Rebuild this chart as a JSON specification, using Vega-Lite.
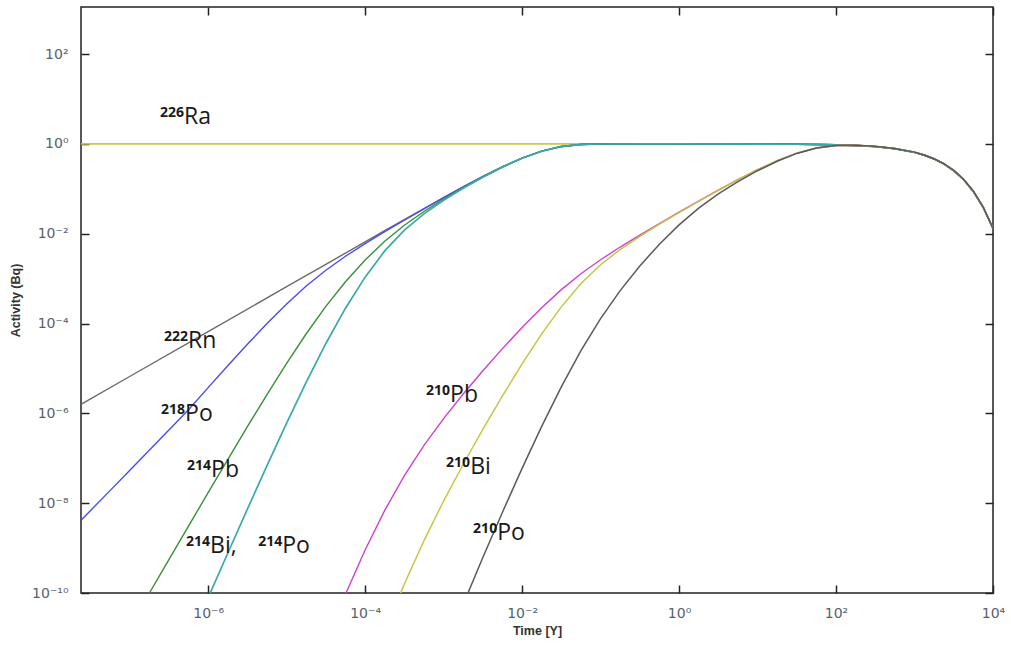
{
  "$schema": "https://vega.github.io/schema/vega-lite/v6.json",
  "width": 912,
  "height": 586,
  "autosize": {"type": "none"},
  "padding": {"left": 81, "top": 7, "right": 18, "bottom": 55},
  "background": "white",
  "config": {
    "view": {"stroke": "#222222", "strokeWidth": 1.5},
    "axis": {"grid": false}
  },
  "datasets": {
    "ra226": [
      {"t": 2.4e-8, "a": 1}, {"t": 1e-6, "a": 1}, {"t": 1e-4, "a": 1}, {"t": 0.01, "a": 1}, {"t": 1, "a": 1},
      {"t": 10, "a": 0.99568}, {"t": 31.62, "a": 0.9864}, {"t": 56.23, "a": 0.97593}, {"t": 100, "a": 0.9576},
      {"t": 177.8, "a": 0.92585}, {"t": 316.2, "a": 0.87197}, {"t": 562.3, "a": 0.78381}, {"t": 1000, "a": 0.64841},
      {"t": 1334, "a": 0.56118}, {"t": 1778, "a": 0.46285}, {"t": 2371, "a": 0.35795}, {"t": 3162, "a": 0.25413},
      {"t": 4217, "a": 0.16093}, {"t": 5623, "a": 0.087505}, {"t": 7499, "a": 0.038825}, {"t": 10000, "a": 0.013139}
    ],
    "rn222": [
      {"t": 2.4e-8, "a": 1.589e-6}, {"t": 1e-7, "a": 6.622e-6}, {"t": 1e-6, "a": 6.622e-5}, {"t": 1e-5, "a": 6.62e-4},
      {"t": 3.162e-5, "a": 2.092e-3}, {"t": 5.623e-5, "a": 3.717e-3}, {"t": 1e-4, "a": 6.6e-3}, {"t": 1.778e-4, "a": 0.011707},
      {"t": 3.162e-4, "a": 0.020723}, {"t": 5.623e-4, "a": 0.036553}, {"t": 1e-3, "a": 0.064075}, {"t": 1.778e-3, "a": 0.111087},
      {"t": 3.162e-3, "a": 0.188939}, {"t": 5.623e-3, "a": 0.310908}, {"t": 0.01, "a": 0.484275}, {"t": 0.01778, "a": 0.691977},
      {"t": 0.03162, "a": 0.876797}, {"t": 0.05623, "a": 0.975853}, {"t": 0.1, "a": 0.998669}, {"t": 0.3162, "a": 1}, {"t": 1, "a": 1},
      {"t": 10, "a": 0.99568}, {"t": 31.62, "a": 0.9864}, {"t": 56.23, "a": 0.97593}, {"t": 100, "a": 0.9576},
      {"t": 177.8, "a": 0.92585}, {"t": 316.2, "a": 0.87197}, {"t": 562.3, "a": 0.78381}, {"t": 1000, "a": 0.64841},
      {"t": 1334, "a": 0.56118}, {"t": 1778, "a": 0.46285}, {"t": 2371, "a": 0.35795}, {"t": 3162, "a": 0.25413},
      {"t": 4217, "a": 0.16093}, {"t": 5623, "a": 0.087505}, {"t": 7499, "a": 0.038825}, {"t": 10000, "a": 0.013139}
    ],
    "po218": [
      {"t": 2.4e-8, "a": 4.17e-9}, {"t": 5.623e-8, "a": 1.905e-8}, {"t": 1e-7, "a": 5.37e-8}, {"t": 1.778e-7, "a": 1.514e-7},
      {"t": 3.162e-7, "a": 4.266e-7}, {"t": 5.623e-7, "a": 1.2054e-6}, {"t": 1e-6, "a": 3.748e-6}, {"t": 1.778e-6, "a": 1.1505e-5},
      {"t": 3.162e-6, "a": 3.4549e-5}, {"t": 5.623e-6, "a": 9.9996e-5}, {"t": 1e-5, "a": 2.7295e-4}, {"t": 1.778e-5, "a": 6.8428e-4},
      {"t": 3.162e-5, "a": 1.5435e-3}, {"t": 5.623e-5, "a": 3.156e-3}, {"t": 1e-4, "a": 6.041e-3}, {"t": 1.778e-4, "a": 0.0111505},
      {"t": 3.162e-4, "a": 0.0201717}, {"t": 5.623e-4, "a": 0.036011}, {"t": 1e-3, "a": 0.063549}, {"t": 1.778e-3, "a": 0.110586},
      {"t": 3.162e-3, "a": 0.188482}, {"t": 5.623e-3, "a": 0.310521}, {"t": 0.01, "a": 0.484001}, {"t": 0.01778, "a": 0.691798},
      {"t": 0.03162, "a": 0.876753}, {"t": 0.05623, "a": 0.97585}, {"t": 0.1, "a": 0.99867}, {"t": 0.3162, "a": 1}, {"t": 1, "a": 1},
      {"t": 10, "a": 0.99568}, {"t": 31.62, "a": 0.9864}, {"t": 56.23, "a": 0.97593}, {"t": 100, "a": 0.9576},
      {"t": 177.8, "a": 0.92585}, {"t": 316.2, "a": 0.87197}, {"t": 562.3, "a": 0.78381}, {"t": 1000, "a": 0.64841},
      {"t": 1334, "a": 0.56118}, {"t": 1778, "a": 0.46285}, {"t": 2371, "a": 0.35795}, {"t": 3162, "a": 0.25413},
      {"t": 4217, "a": 0.16093}, {"t": 5623, "a": 0.087505}, {"t": 7499, "a": 0.038825}, {"t": 10000, "a": 0.013139}
    ],
    "pb214": [
      {"t": 1e-7, "a": 1.761e-11}, {"t": 1.778e-7, "a": 9.877e-11}, {"t": 3.162e-7, "a": 5.529e-10}, {"t": 5.623e-7, "a": 3.0845e-9},
      {"t": 1e-6, "a": 1.7101e-8}, {"t": 1.778e-6, "a": 9.379e-8}, {"t": 3.162e-6, "a": 5.0489e-7}, {"t": 5.623e-6, "a": 2.6317e-6},
      {"t": 1e-5, "a": 1.30186e-5}, {"t": 1.778e-5, "a": 5.937e-5}, {"t": 3.162e-5, "a": 2.4153e-4}, {"t": 5.623e-5, "a": 8.536e-4},
      {"t": 1e-4, "a": 2.596e-3}, {"t": 1.778e-4, "a": 6.8116e-3}, {"t": 3.162e-4, "a": 0.0154636}, {"t": 5.623e-4, "a": 0.0313095},
      {"t": 1e-3, "a": 0.058978}, {"t": 1.778e-3, "a": 0.106255}, {"t": 3.162e-3, "a": 0.184483}, {"t": 5.623e-3, "a": 0.30716},
      {"t": 0.01, "a": 0.481477}, {"t": 0.01778, "a": 0.690298}, {"t": 0.03162, "a": 0.87615}, {"t": 0.05623, "a": 0.975727},
      {"t": 0.1, "a": 0.99866}, {"t": 0.3162, "a": 1}, {"t": 1, "a": 1},
      {"t": 10, "a": 0.99568}, {"t": 31.62, "a": 0.9864}, {"t": 56.23, "a": 0.97593}, {"t": 100, "a": 0.9576},
      {"t": 177.8, "a": 0.92585}, {"t": 316.2, "a": 0.87197}, {"t": 562.3, "a": 0.78381}, {"t": 1000, "a": 0.64841},
      {"t": 1334, "a": 0.56118}, {"t": 1778, "a": 0.46285}, {"t": 2371, "a": 0.35795}, {"t": 3162, "a": 0.25413},
      {"t": 4217, "a": 0.16093}, {"t": 5623, "a": 0.087505}, {"t": 7499, "a": 0.038825}, {"t": 10000, "a": 0.013139}
    ],
    "bi214": [
      {"t": 7.943e-7, "a": 3.15e-11}, {"t": 1e-6, "a": 7.855e-11}, {"t": 1.778e-6, "a": 7.6765e-10}, {"t": 3.162e-6, "a": 7.3731e-9},
      {"t": 5.623e-6, "a": 6.8732e-8}, {"t": 1e-5, "a": 6.0929e-7}, {"t": 1.778e-5, "a": 4.9815e-6}, {"t": 3.162e-5, "a": 3.6024e-5},
      {"t": 5.623e-5, "a": 2.2004e-4}, {"t": 1e-4, "a": 1.0817e-3}, {"t": 1.778e-4, "a": 4.1497e-3}, {"t": 3.162e-4, "a": 0.012074},
      {"t": 5.623e-4, "a": 0.027809}, {"t": 1e-3, "a": 0.055571}, {"t": 1.778e-3, "a": 0.103016}, {"t": 3.162e-3, "a": 0.181565},
      {"t": 5.623e-3, "a": 0.304646}, {"t": 0.01, "a": 0.479611}, {"t": 0.01778, "a": 0.68918}, {"t": 0.03162, "a": 0.875695},
      {"t": 0.05623, "a": 0.975639}, {"t": 0.1, "a": 0.998657}, {"t": 0.3162, "a": 1}, {"t": 1, "a": 1},
      {"t": 10, "a": 0.99568}, {"t": 31.62, "a": 0.9864}, {"t": 56.23, "a": 0.97593}, {"t": 100, "a": 0.9576},
      {"t": 177.8, "a": 0.92585}, {"t": 316.2, "a": 0.87197}, {"t": 562.3, "a": 0.78381}, {"t": 1000, "a": 0.64841},
      {"t": 1334, "a": 0.56118}, {"t": 1778, "a": 0.46285}, {"t": 2371, "a": 0.35795}, {"t": 3162, "a": 0.25413},
      {"t": 4217, "a": 0.16093}, {"t": 5623, "a": 0.087505}, {"t": 7499, "a": 0.038825}, {"t": 10000, "a": 0.013139}
    ],
    "pb210": [
      {"t": 3.162e-5, "a": 8.075e-12}, {"t": 5.623e-5, "a": 9.401e-11}, {"t": 1e-4, "a": 9.046e-10}, {"t": 1.778e-4, "a": 6.914e-9},
      {"t": 3.162e-4, "a": 4.123e-8}, {"t": 5.623e-4, "a": 1.9438e-7}, {"t": 1e-3, "a": 7.649e-7}, {"t": 1.778e-3, "a": 2.6967e-6},
      {"t": 3.162e-3, "a": 8.871e-6}, {"t": 5.623e-3, "a": 2.7681e-5}, {"t": 0.01, "a": 8.184e-5}, {"t": 0.01778, "a": 2.2595e-4},
      {"t": 0.03162, "a": 5.699e-4}, {"t": 0.05623, "a": 1.2903e-3}, {"t": 0.1, "a": 2.6431e-3}, {"t": 0.1778, "a": 5.0636e-3},
      {"t": 0.3162, "a": 9.3538e-3}, {"t": 0.5623, "a": 0.0169371}, {"t": 1, "a": 0.0302793}, {"t": 1.778, "a": 0.0535596},
      {"t": 3.162, "a": 0.0935881}, {"t": 5.623, "a": 0.160633}, {"t": 10, "a": 0.267218}, {"t": 17.78, "a": 0.424008},
      {"t": 31.62, "a": 0.62231}, {"t": 56.23, "a": 0.814384}, {"t": 100, "a": 0.926393}, {"t": 177.8, "a": 0.934951},
      {"t": 316.2, "a": 0.88424}, {"t": 562.3, "a": 0.79484}, {"t": 1000, "a": 0.65753}, {"t": 1334, "a": 0.56908},
      {"t": 1778, "a": 0.46937}, {"t": 2371, "a": 0.36299}, {"t": 3162, "a": 0.25771}, {"t": 4217, "a": 0.1632},
      {"t": 5623, "a": 0.08874}, {"t": 7499, "a": 0.03937}, {"t": 10000, "a": 0.013324}
    ],
    "bi210": [
      {"t": 1.778e-4, "a": 1.3618e-11}, {"t": 3.162e-4, "a": 1.5861e-10}, {"t": 5.623e-4, "a": 1.4672e-9}, {"t": 1e-3, "a": 1.1158e-8},
      {"t": 1.778e-3, "a": 7.3575e-8}, {"t": 3.162e-3, "a": 4.4047e-7}, {"t": 5.623e-3, "a": 2.4503e-6}, {"t": 0.01, "a": 1.2633e-5},
      {"t": 0.01778, "a": 5.8724e-5}, {"t": 0.03162, "a": 2.3603e-4}, {"t": 0.05623, "a": 7.7745e-4}, {"t": 0.1, "a": 2.0399e-3},
      {"t": 0.1778, "a": 4.4485e-3}, {"t": 0.3162, "a": 8.7412e-3}, {"t": 0.5623, "a": 0.0163293}, {"t": 1, "a": 0.0296798},
      {"t": 1.778, "a": 0.0529743}, {"t": 3.162, "a": 0.0930275}, {"t": 5.623, "a": 0.160115}, {"t": 10, "a": 0.266768},
      {"t": 17.78, "a": 0.4237}, {"t": 31.62, "a": 0.6222}, {"t": 56.23, "a": 0.81434}, {"t": 100, "a": 0.92638},
      {"t": 177.8, "a": 0.934951}, {"t": 316.2, "a": 0.88424}, {"t": 562.3, "a": 0.79484}, {"t": 1000, "a": 0.65753},
      {"t": 1334, "a": 0.56908}, {"t": 1778, "a": 0.46937}, {"t": 2371, "a": 0.36299}, {"t": 3162, "a": 0.25771},
      {"t": 4217, "a": 0.1632}, {"t": 5623, "a": 0.08874}, {"t": 7499, "a": 0.03937}, {"t": 10000, "a": 0.013324}
    ],
    "po210": [
      {"t": 1e-3, "a": 4.488e-12}, {"t": 1.778e-3, "a": 5.571e-11}, {"t": 3.162e-3, "a": 6.17e-10}, {"t": 5.623e-3, "a": 6.298e-9},
      {"t": 0.01, "a": 5.958e-8}, {"t": 0.01778, "a": 5.139e-7}, {"t": 0.03162, "a": 3.904e-6}, {"t": 0.05623, "a": 2.4946e-5},
      {"t": 0.1, "a": 1.2901e-4}, {"t": 0.1778, "a": 5.41e-4}, {"t": 0.3162, "a": 1.921e-3}, {"t": 0.5623, "a": 5.8663e-3},
      {"t": 1, "a": 0.0158037}, {"t": 1.778, "a": 0.037248}, {"t": 3.162, "a": 0.077334}, {"t": 5.623, "a": 0.145531},
      {"t": 10, "a": 0.25362}, {"t": 17.78, "a": 0.413}, {"t": 31.62, "a": 0.615813}, {"t": 56.23, "a": 0.8115},
      {"t": 100, "a": 0.925832}, {"t": 177.8, "a": 0.9347}, {"t": 316.2, "a": 0.8842}, {"t": 562.3, "a": 0.79484},
      {"t": 1000, "a": 0.65753}, {"t": 1334, "a": 0.56908}, {"t": 1778, "a": 0.46937}, {"t": 2371, "a": 0.36299},
      {"t": 3162, "a": 0.25771}, {"t": 4217, "a": 0.1632}, {"t": 5623, "a": 0.08874}, {"t": 7499, "a": 0.03937},
      {"t": 10000, "a": 0.013324}
    ],
    "labels": [
      {"t": 4.94e-7, "a": 2.786, "sup": "226", "el": "Ra"},
      {"t": 5.56e-7, "a": 2.864e-5, "sup": "222", "el": "Rn"},
      {"t": 5.09e-7, "a": 6.78e-7, "sup": "218", "el": "Po"},
      {"t": 1.091e-6, "a": 3.84e-8, "sup": "214", "el": "Pb"},
      {"t": 1.059e-6, "a": 7.78e-10, "sup": "214", "el": "Bi,"},
      {"t": 8.77e-6, "a": 7.78e-10, "sup": "214", "el": "Po"},
      {"t": 1.211e-3, "a": 1.795e-6, "sup": "210", "el": "Pb"},
      {"t": 2.178e-3, "a": 4.47e-8, "sup": "210", "el": "Bi"},
      {"t": 4.81e-3, "a": 1.51e-9, "sup": "210", "el": "Po"}
    ]
  },
  "layer": [
    {
      "encoding": {
        "x": {
          "field": "t", "type": "quantitative",
          "scale": {"type": "log", "domain": [2.4e-8, 10000], "nice": false},
          "axis": {
            "orient": "bottom",
            "values": [1e-6, 1e-4, 0.01, 1, 100, 10000],
            "labelExpr": "'10' + (datum.value < 1 ? '⁻' : '') + (abs(round(log(datum.value)/LN10)) >= 10 ? '¹' : '') + ['⁰','¹','²','³','⁴','⁵','⁶','⁷','⁸','⁹'][abs(round(log(datum.value)/LN10)) % 10]",
            "domain": false, "grid": false,
            "tickSize": -8, "tickColor": "#222222", "tickWidth": 1.5,
            "labelFont": "DejaVu Sans", "labelFontSize": 14, "labelColor": "#56616e", "labelPadding": 21,
            "labelFlush": false, "labelOverlap": false,
            "title": "Time [Y]", "titleFont": "Liberation Sans", "titleFontSize": 12.5, "titleFontWeight": "bold",
            "titleColor": "#333333", "titlePadding": 4
          }
        },
        "y": {
          "field": "a", "type": "quantitative",
          "scale": {"type": "log", "domain": [1e-10, 1122], "nice": false},
          "axis": {
            "orient": "left",
            "values": [1e-10, 1e-8, 1e-6, 1e-4, 0.01, 1, 100],
            "labelExpr": "'10' + (datum.value < 1 ? '⁻' : '') + (abs(round(log(datum.value)/LN10)) >= 10 ? '¹' : '') + ['⁰','¹','²','³','⁴','⁵','⁶','⁷','⁸','⁹'][abs(round(log(datum.value)/LN10)) % 10]",
            "domain": false, "grid": false,
            "tickSize": -8, "tickColor": "#222222", "tickWidth": 1.5,
            "labelFont": "DejaVu Sans", "labelFontSize": 14, "labelColor": "#56616e", "labelPadding": 21,
            "labelFlush": false, "labelOverlap": false,
            "title": "Activity (Bq)", "titleFont": "Liberation Sans", "titleFontSize": 12.5, "titleFontWeight": "bold",
            "titleColor": "#333333", "titlePadding": 9
          }
        }
      },
      "layer": [
        {"data": {"name": "ra226"}, "mark": {"type": "line", "color": "#c9c93c", "strokeWidth": 1.7, "clip": true}},
        {"data": {"name": "rn222"}, "mark": {"type": "line", "color": "#6b6b6b", "strokeWidth": 1.4, "clip": true}},
        {"data": {"name": "po218"}, "mark": {"type": "line", "color": "#4b4bf5", "strokeWidth": 1.4, "clip": true}},
        {"data": {"name": "pb214"}, "mark": {"type": "line", "color": "#3a8f3a", "strokeWidth": 1.4, "clip": true}},
        {"data": {"name": "bi214"}, "mark": {"type": "line", "color": "#3aa9a9", "strokeWidth": 1.7, "clip": true}},
        {"data": {"name": "pb210"}, "mark": {"type": "line", "color": "#d040d0", "strokeWidth": 1.4, "clip": true}},
        {"data": {"name": "bi210"}, "mark": {"type": "line", "color": "#c4c43c", "strokeWidth": 1.4, "clip": true}},
        {"data": {"name": "po210"}, "mark": {"type": "line", "color": "#5a5a5a", "strokeWidth": 1.5, "clip": true}},
        {
          "data": {"name": "labels"},
          "mark": {"type": "text", "align": "right", "baseline": "alphabetic", "dy": -7, "font": "Open Sans", "fontSize": 14, "fontWeight": "bold", "color": "#1a1a1a"},
          "encoding": {"text": {"field": "sup"}}
        },
        {
          "data": {"name": "labels"},
          "mark": {"type": "text", "align": "left", "baseline": "alphabetic", "font": "Open Sans", "fontSize": 23, "color": "#1a1a1a"},
          "encoding": {"text": {"field": "el"}}
        }
      ]
    },
    {
      "data": {"name": "ra226"},
      "mark": {"type": "line", "opacity": 0},
      "encoding": {
        "x": {
          "field": "t", "type": "quantitative",
          "scale": {"type": "log", "domain": [2.4e-8, 10000], "nice": false},
          "axis": {"orient": "top", "values": [1e-6, 1e-4, 0.01, 1, 100, 10000], "labels": false, "domain": false, "grid": false, "tickSize": -8, "tickColor": "#222222", "tickWidth": 1.5, "title": null}
        },
        "y": {
          "field": "a", "type": "quantitative",
          "scale": {"type": "log", "domain": [1e-10, 1122], "nice": false},
          "axis": {"orient": "right", "values": [1e-10, 1e-8, 1e-6, 1e-4, 0.01, 1, 100], "labels": false, "domain": false, "grid": false, "tickSize": -8, "tickColor": "#222222", "tickWidth": 1.5, "title": null}
        }
      }
    }
  ],
  "resolve": {"axis": {"x": "independent", "y": "independent"}}
}
